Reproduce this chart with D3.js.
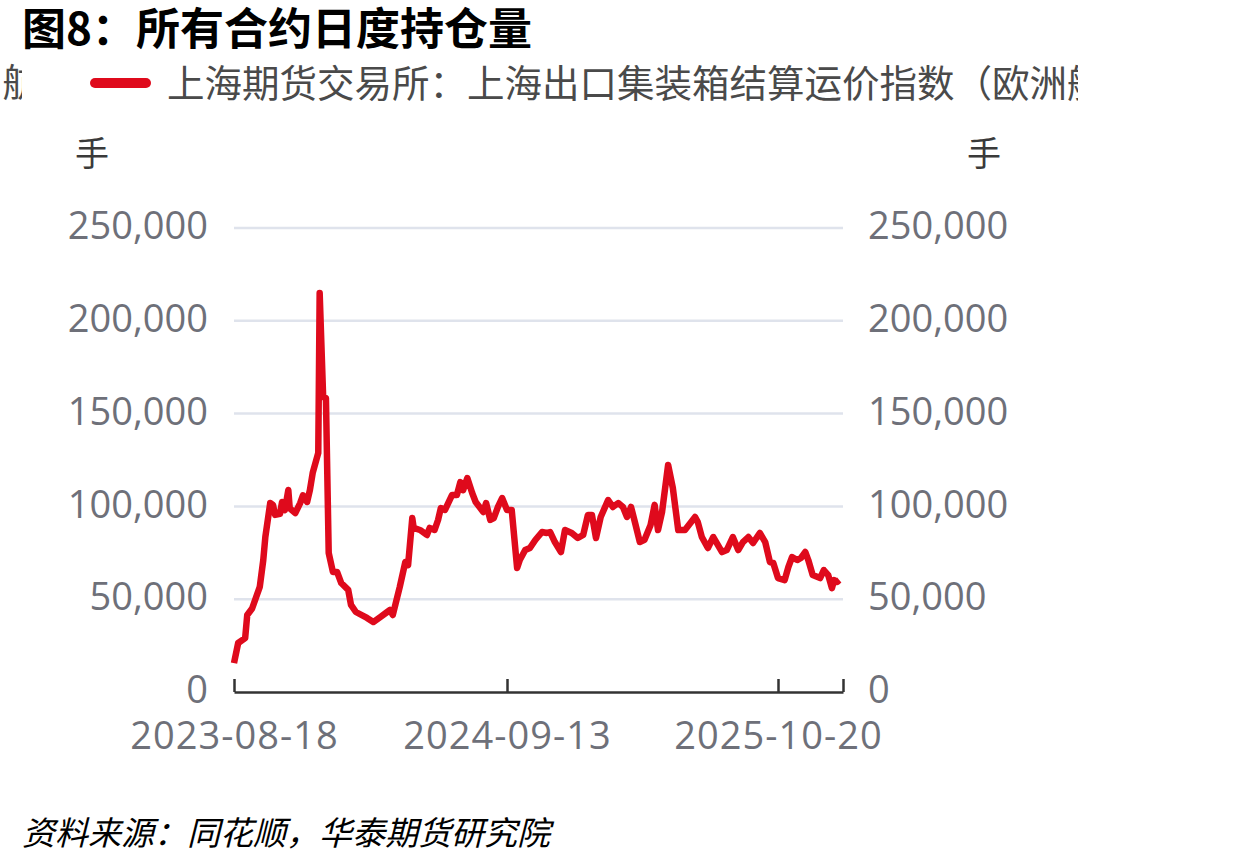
<!DOCTYPE html>
<html>
<head>
<meta charset="utf-8">
<script src="https://cdn.jsdelivr.net/npm/d3@7"></script>
<style>
  html, body { margin: 0; padding: 0; background: #fff; }
  svg { display: block; }
</style>
</head>
<body>
<svg id="chart" width="1240" height="866"></svg>
<script>
// ---------- data ----------
const titleText = "图8：所有合约日度持仓量";
const seriesName = "上海期货交易所：上海出口集装箱结算运价指数（欧洲航线）";
const prevLegendTail = "（欧洲航";
const unitLabel = "手";
const sourceText = "资料来源：同花顺，华泰期货研究院";

const yTicks = [0, 50000, 100000, 150000, 200000, 250000];
const xTickDates = ["2023-08-18", "2024-09-13", "2025-10-20", "2026-01-16"];
const xTickLabels = ["2023-08-18", "2024-09-13", "2025-10-20", ""];

const dates = [
  "2023-08-18","2023-08-24","2023-09-03","2023-09-06","2023-09-13","2023-09-24","2023-09-29","2023-10-02",
  "2023-10-09","2023-10-13","2023-10-16","2023-10-23","2023-10-26","2023-10-30","2023-11-04","2023-11-06",
  "2023-11-14","2023-11-21","2023-11-25","2023-12-01","2023-12-05","2023-12-09","2023-12-17","2023-12-19",
  "2023-12-24","2023-12-28","2024-01-01","2024-01-07","2024-01-13","2024-01-19","2024-01-29","2024-02-02",
  "2024-02-09","2024-02-25","2024-03-05","2024-03-15","2024-03-25","2024-03-29","2024-04-02","2024-04-12",
  "2024-04-20","2024-04-24","2024-04-30","2024-05-02","2024-05-11","2024-05-21","2024-05-25","2024-06-01",
  "2024-06-06","2024-06-10","2024-06-16","2024-06-26","2024-07-03","2024-07-08","2024-07-12","2024-07-18",
  "2024-07-25","2024-07-30","2024-08-10","2024-08-14","2024-08-20","2024-08-25","2024-08-31","2024-09-06",
  "2024-09-13","2024-09-20","2024-09-28","2024-10-02","2024-10-10","2024-10-17","2024-10-25","2024-11-04",
  "2024-11-11","2024-11-16","2024-11-23","2024-12-02","2024-12-08","2024-12-18","2024-12-27","2025-01-04",
  "2025-01-11","2025-01-17","2025-01-23","2025-01-30","2025-02-10","2025-02-17","2025-02-25","2025-03-04",
  "2025-03-10","2025-03-16","2025-03-22","2025-03-29","2025-04-05","2025-04-14","2025-04-20","2025-04-25",
  "2025-05-01","2025-05-10","2025-05-17","2025-05-25","2025-06-04","2025-06-19","2025-06-23","2025-06-29",
  "2025-07-08","2025-07-16","2025-07-29","2025-08-05","2025-08-14","2025-08-22","2025-08-29","2025-09-06",
  "2025-09-13","2025-09-23","2025-10-01","2025-10-08","2025-10-13","2025-10-20","2025-10-29","2025-11-03",
  "2025-11-08","2025-11-15","2025-11-20","2025-11-26","2025-11-30","2025-12-06","2025-12-16","2025-12-21",
  "2025-12-27","2026-01-01","2026-01-04","2026-01-08","2026-01-11"
];
const values = [
  15600, 26400, 29000, 41500, 45000, 56600, 71000, 83500,
  101800, 100800, 95400, 96000, 102400, 98000, 108800, 99000,
  96400, 101800, 106000, 102400, 108800, 118000, 128800, 215000,
  159000, 158400, 74900, 64700, 64700, 58700, 55000, 46900,
  43100, 39900, 37700, 40400, 43100, 44200, 41500, 56600,
  70000, 68400, 93700, 88400, 87300, 84600, 88400, 87300,
  92700, 99100, 98100, 106100, 106100, 113100, 108800, 115300,
  107200, 102400, 97000, 101800, 92700, 93700, 99700, 104500,
  98100, 98100, 66800, 71100, 76500, 77600, 81900, 86200,
  85700, 86200, 80800, 75400, 87300, 85700, 83000, 84600,
  95400, 95400, 83000, 94300, 103400, 99700, 101800, 99700,
  94300, 99700, 91100, 80800, 82000, 90000, 100800, 87300,
  97000, 122300, 109900, 87300, 87300, 94300, 91600, 83500,
  77600, 83500, 75400, 76500, 83500, 76500, 80800, 83500,
  80300, 85700, 80800, 70000, 69500, 61400, 60300, 67300,
  72700, 71100, 72200, 75400, 71100, 63000, 61400, 65700,
  63000, 56000, 60300, 59300, 60300
];

// ---------- layout ----------
const W = 1240, H = 866;
const plotLeft = 234, plotRight = 843, plotTop = 228, plotBottom = 692;
const xBreaks = [plotLeft, 507, 778, plotRight];
const red = "#df0a1c";
const labelColor = "#6e7079";
const gridColor = "#dfe3ec";
const numFont = "'Open Sans', 'Noto Sans', sans-serif";
const cjkFont = "'Noto Sans CJK SC', 'Noto Sans', sans-serif";

const parse = d3.timeParse("%Y-%m-%d");
const data = dates.map((d, i) => ({ date: parse(d), value: values[i] }));

const svg = d3.select("#chart");

const x = d3.scaleTime()
  .domain(xTickDates.map(parse))
  .range(xBreaks);
const y = d3.scaleLinear().domain([0, 250000]).range([plotBottom, plotTop]);

// title
svg.append("text")
  .attr("x", 22).attr("y", 45)
  .attr("font-family", cjkFont)
  .attr("font-weight", 700)
  .attr("font-size", 44)
  .attr("fill", "#000")
  .text(titleText);

// legend (scrolled / clipped)
const defs = svg.append("defs");
defs.append("clipPath").attr("id", "legClipL")
  .append("rect").attr("x", 0).attr("y", 55).attr("width", 22).attr("height", 60);
defs.append("clipPath").attr("id", "legClipR")
  .append("rect").attr("x", 60).attr("y", 55).attr("width", 1018).attr("height", 60);

svg.append("text")
  .attr("clip-path", "url(#legClipL)")
  .attr("x", 40).attr("y", 96)
  .attr("text-anchor", "end")
  .attr("font-family", cjkFont)
  .attr("font-size", 37.5)
  .attr("fill", "#4a4a4a")
  .text(prevLegendTail);

const leg = svg.append("g").attr("clip-path", "url(#legClipR)");
leg.append("line")
  .attr("x1", 95).attr("x2", 146).attr("y1", 83).attr("y2", 83)
  .attr("stroke", red).attr("stroke-width", 10).attr("stroke-linecap", "round");
leg.append("text")
  .attr("x", 167).attr("y", 97)
  .attr("font-family", cjkFont)
  .attr("font-size", 37.5)
  .attr("fill", "#4a4a4a")
  .text(seriesName);

// unit labels
svg.append("text").attr("x", 92).attr("y", 166).attr("text-anchor", "middle")
  .attr("font-family", cjkFont).attr("font-size", 34).attr("fill", "#3a3a3a").text(unitLabel);
svg.append("text").attr("x", 984).attr("y", 166).attr("text-anchor", "middle")
  .attr("font-family", cjkFont).attr("font-size", 34).attr("fill", "#3a3a3a").text(unitLabel);

// grid lines
svg.append("g")
  .selectAll("line")
  .data(yTicks.filter(t => t > 0))
  .join("line")
  .attr("x1", plotLeft).attr("x2", plotRight)
  .attr("y1", d => y(d)).attr("y2", d => y(d))
  .attr("stroke", gridColor).attr("stroke-width", 2.5);

// left y axis
const fmt = d3.format(",");
const yAxisL = svg.append("g")
  .attr("transform", `translate(${plotLeft - 26},0)`)
  .call(d3.axisLeft(y).tickValues(yTicks).tickFormat(fmt).tickSize(0).tickPadding(0));
yAxisL.select(".domain").remove();
yAxisL.selectAll("text")
  .attr("font-family", numFont).attr("font-size", 38).attr("fill", labelColor).attr("dy", "0.28em");

// right y axis
const yAxisR = svg.append("g")
  .attr("transform", `translate(${plotRight + 25},0)`)
  .call(d3.axisRight(y).tickValues(yTicks).tickFormat(fmt).tickSize(0).tickPadding(0));
yAxisR.select(".domain").remove();
yAxisR.selectAll("text")
  .attr("font-family", numFont).attr("font-size", 38).attr("fill", labelColor).attr("dy", "0.28em");

// x axis
const xAxis = svg.append("g")
  .attr("transform", `translate(0,${plotBottom})`)
  .call(d3.axisBottom(x)
    .tickValues(xTickDates.map(parse))
    .tickFormat((d, i) => xTickLabels[i])
    .tickSizeInner(-13).tickSizeOuter(0).tickPadding(30));
xAxis.select(".domain").attr("stroke", "#333").attr("stroke-width", 2.5);
xAxis.selectAll(".tick line").attr("stroke", "#333").attr("stroke-width", 2.5);
xAxis.selectAll("text")
  .attr("font-family", numFont).attr("font-size", 38).attr("letter-spacing", "1px")
  .attr("fill", labelColor);

// line
const line = d3.line()
  .x(d => x(d.date))
  .y(d => y(d.value));
svg.append("path")
  .datum(data)
  .attr("fill", "none")
  .attr("stroke", red)
  .attr("stroke-width", 6.5)
  .attr("stroke-linejoin", "round")
  .attr("d", line);

// source
svg.append("text")
  .attr("x", 22).attr("y", 845)
  .attr("font-family", cjkFont)
  .attr("font-style", "italic")
  .attr("font-size", 33)
  .attr("fill", "#000")
  .text(sourceText);
</script>
</body>
</html>
